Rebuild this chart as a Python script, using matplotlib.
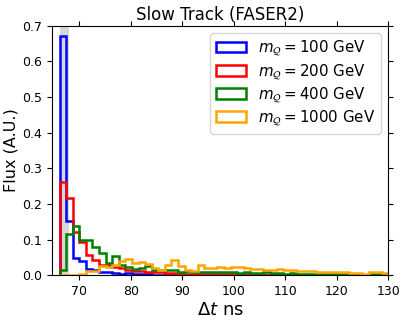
import matplotlib
matplotlib.use("Agg")
import matplotlib.pyplot as plt
import numpy as np

# bin edges of the delta-t histograms (ns)
t_min, t_max, n_bins = 66.2, 130.0, 50
edges = np.linspace(t_min, t_max, n_bins + 1)

masses = [100, 200, 400, 1000]
colors = ["blue", "red", "green", "orange"]

flux_100 = [0.670, 0.151, 0.048, 0.041, 0.018, 0.015, 0.008, 0.010, 0.006, 0.005,
            0.006, 0.003, 0.004, 0.003, 0.002, 0.002, 0.001, 0.002, 0.001, 0.001,
            0.001, 0.001, 0.000, 0.001, 0.000, 0.000, 0.000, 0.000, 0.000, 0.000,
            0.000, 0.000, 0.000, 0.000, 0.000, 0.000, 0.000, 0.000, 0.000, 0.000,
            0.000, 0.000, 0.000, 0.000, 0.000, 0.000, 0.000, 0.000, 0.000, 0.000]
flux_200 = [0.261, 0.216, 0.122, 0.092, 0.057, 0.043, 0.030, 0.028, 0.022, 0.020,
            0.015, 0.012, 0.012, 0.010, 0.008, 0.010, 0.006, 0.006, 0.005, 0.004,
            0.005, 0.004, 0.003, 0.004, 0.003, 0.003, 0.003, 0.002, 0.003, 0.002,
            0.002, 0.002, 0.002, 0.001, 0.002, 0.001, 0.001, 0.001, 0.001, 0.001,
            0.001, 0.001, 0.000, 0.001, 0.000, 0.000, 0.001, 0.000, 0.000, 0.000]
flux_400 = [0.015, 0.115, 0.138, 0.099, 0.100, 0.078, 0.062, 0.034, 0.054, 0.028,
            0.022, 0.018, 0.020, 0.026, 0.014, 0.014, 0.015, 0.015, 0.010, 0.012,
            0.010, 0.008, 0.010, 0.009, 0.008, 0.008, 0.010, 0.007, 0.008, 0.007,
            0.006, 0.008, 0.006, 0.006, 0.005, 0.006, 0.005, 0.004, 0.005, 0.004,
            0.004, 0.003, 0.004, 0.003, 0.003, 0.003, 0.002, 0.005, 0.004, 0.003]
flux_1000 = [0.000, 0.000, 0.000, 0.004, 0.012, 0.013, 0.025, 0.022, 0.028, 0.040,
             0.045, 0.035, 0.036, 0.032, 0.020, 0.016, 0.028, 0.042, 0.026, 0.014,
             0.012, 0.028, 0.020, 0.020, 0.024, 0.020, 0.022, 0.024, 0.020, 0.018,
             0.017, 0.016, 0.016, 0.017, 0.015, 0.014, 0.013, 0.012, 0.011, 0.010,
             0.010, 0.010, 0.009, 0.008, 0.007, 0.007, 0.005, 0.009, 0.008, 0.006]
fluxes = [flux_100, flux_200, flux_400, flux_1000]

# shaded window at the start
band = (66.2, 68.0)

fig = plt.figure(figsize=(4.07, 3.21), dpi=100)
ax = fig.add_axes([0.128, 0.1424, 0.8265, 0.778])

ax.axvspan(band[0], band[1], color="lightgrey", alpha=0.9, lw=0, zorder=0)

centers = 0.5 * (edges[:-1] + edges[1:])
for m, c, f in zip(masses, colors, fluxes):
    ax.hist(centers, bins=edges, weights=f, histtype="step", color=c, lw=1.8,
            label=r"$m_{\mathcal{Q}} = %d$ GeV" % m)

ax.set_xlim(64.75, 130)
ax.set_ylim(0, 0.7)
ax.set_xticks(np.arange(70, 131, 10))
ax.set_yticks(np.arange(0, 0.71, 0.1))
ax.tick_params(labelsize=9, top=True, right=True)
ax.set_title("Slow Track (FASER2)", fontsize=12, pad=4)
ax.set_xlabel(r"$\Delta t$ ns", fontsize=13, labelpad=2)
ax.set_ylabel("Flux (A.U.)", fontsize=11.5, labelpad=3)
ax.legend(loc="upper right", fontsize=10.8, handlelength=2.0,
          labelspacing=0.25, borderaxespad=0.5)

fig.savefig("out.png", dpi=100)
